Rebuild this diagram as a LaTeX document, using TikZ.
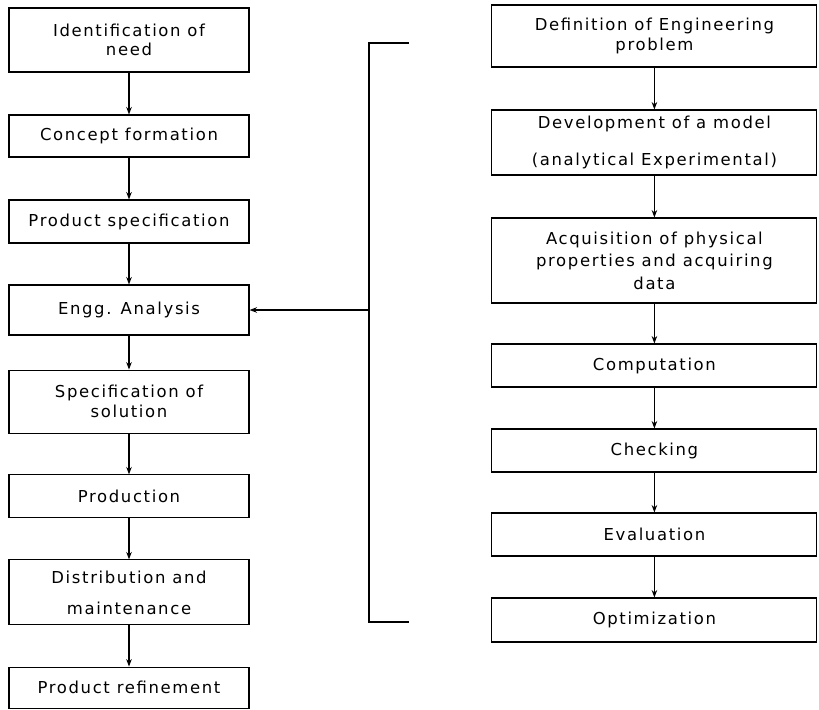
\documentclass[tikz,border=0pt]{standalone}
\usepackage{fontspec}
\setmainfont[LetterSpace=10]{DejaVu Sans}
\usetikzlibrary{arrows.meta}
\tikzset{>={Stealth[scale=.8]}}
\tikzset{stage/.style={draw, line width=0.8pt, align=center, inner sep=0pt,
    font=\fontsize{11.7}{14}\selectfont},
  lbox/.style={stage, minimum width=6cm},
  rbox/.style={stage, minimum width=8.125cm}}

\begin{document}
\begin{tikzpicture}[line width=0.8pt]
  \useasboundingbox (0, 0) rectangle (20.475, -17.725);
  % design process
  \node[lbox, minimum height=1.6cm] (L1) at (3.225, -1.0) {Identification of\\need};
  \node[lbox, minimum height=1.05cm] (L2) at (3.225, -3.4) {Concept formation};
  \node[lbox, minimum height=1.075cm] (L3) at (3.225, -5.5375) {Product specification};
  \node[lbox, minimum height=1.25cm] (L4) at (3.225, -7.75) {Engg. Analysis};
  \node[lbox, minimum height=1.575cm] (L5) at (3.225, -10.04) {Specification of\\solution};
  \node[lbox, minimum height=1.075cm] (L6) at (3.225, -12.41) {Production};
  \node[lbox, minimum height=1.625cm] (L7) at (3.225, -14.81) {Distribution and\\[8pt]maintenance};
  \node[lbox, minimum height=1.025cm] (L8) at (3.225, -17.19) {Product refinement};
  % analysis steps
  \node[rbox, minimum height=1.55cm] (R1) at (16.36, -0.9) {Definition of Engineering\\problem};
  \node[rbox, minimum height=1.625cm] (R2) at (16.36, -3.5625) {Development of a model\\[12pt](analytical Experimental)};
  \node[rbox, minimum height=2.125cm] (R3) at (16.36, -6.5125) {Acquisition of physical\\[2pt]properties and acquiring\\[2pt]data};
  \node[rbox, minimum height=1.075cm] (R4) at (16.36, -9.1375) {Computation};
  \node[rbox, minimum height=1.075cm] (R5) at (16.36, -11.2625) {Checking};
  \node[rbox, minimum height=1.075cm] (R6) at (16.36, -13.3625) {Evaluation};
  \node[rbox, minimum height=1.1cm] (R7) at (16.36, -15.5) {Optimization};
  \foreach \a/\b in {L1/L2, L2/L3, L3/L4, L4/L5, L5/L6, L6/L7, L7/L8,
                     R1/R2, R2/R3, R3/R4, R4/R5, R5/R6, R6/R7}
    \draw[->] (\a) -- (\b);
  % bracket
  \coordinate (BT) at (9.225, -1.075);
  \coordinate (BB) at (9.225, -15.55);
  \draw (BT) ++(1, 0) -- (BT) -- (BB) -- ++(1, 0);
  \draw[->] (BT |- L4.east) -- (L4.east);
\end{tikzpicture}
\end{document}
